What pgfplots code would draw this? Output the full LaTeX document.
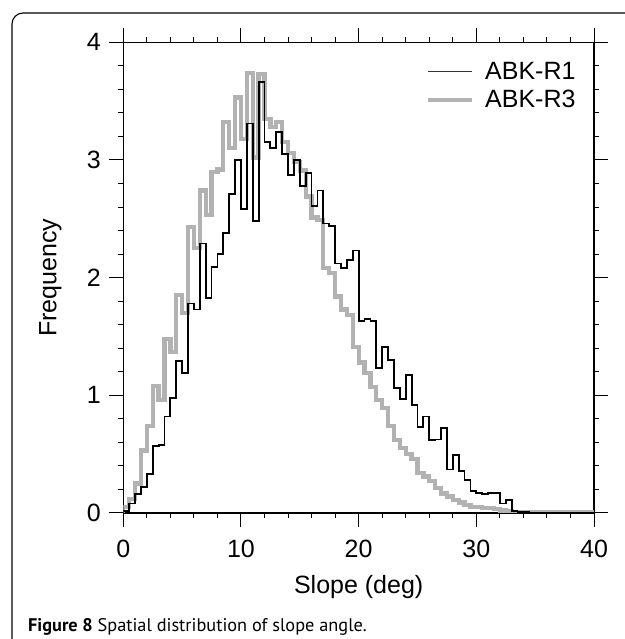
\documentclass[border=0pt]{standalone}
\usepackage{pgfplots}
\pgfplotsset{compat=1.18}
\usepackage{pgfplotstable}
\usepackage{fontspec}
\setmainfont{Liberation Sans}
\newfontfamily\capfont{PT Sans}
\definecolor{histgray}{RGB}{178,178,178}

\pgfplotstableread{
x r1 r3
0 0 0
0 0.02 0.05
0.5 0.08 0.12
1 0.16 0.25
1.5 0.22 0.53
2 0.33 0.74
2.5 0.57 1.08
3 0.58 0.96
3.5 0.82 1.48
4 0.98 1.37
4.5 1.29 1.85
5 1.19 1.70
5.5 1.78 2.43
6 1.73 2.25
6.5 2.29 2.74
7 1.83 2.53
7.5 2.09 2.90
8 2.20 2.92
8.5 2.38 3.32
9 2.71 3.10
9.5 3.00 3.53
10 2.58 3.18
10.5 3.31 3.74
11 2.48 3.02
11.5 3.66 3.73
12 3.15 3.35
12.5 3.10 3.28
13 3.24 3.32
13.5 3.05 3.15
14 2.87 3.06
14.5 3.00 2.98
15 2.78 2.91
15.5 2.89 2.69
16 2.61 2.51
16.5 2.74 2.49
17 2.46 2.08
17.5 2.44 2.04
18 2.12 1.84
18.5 2.08 1.73
19 2.15 1.68
19.5 2.23 1.41
20 1.63 1.28
20.5 1.65 1.19
21 1.63 1.07
21.5 1.23 0.96
22 1.41 0.89
22.5 1.30 0.74
23 1.06 0.62
23.5 0.97 0.55
24 1.17 0.50
24.5 0.92 0.46
25 0.73 0.34
25.5 0.82 0.31
26 0.62 0.27
26.5 0.625 0.21
27 0.72 0.165
27.5 0.37 0.14
28 0.49 0.11
28.5 0.36 0.09
29 0.28 0.065
29.5 0.19 0.05
30 0.17 0.05
30.5 0.16 0.04
31 0.17 0.04
31.5 0.17 0.035
32 0.08 0.02
32.5 0.11 0.015
33 0.02 0.006
33.5 0.01 0.003
34 0.01 0.003
34.5 0.003 0.003
35 0.003 0.003
35.5 0.003 0.003
36 0.003 0.003
36.5 0.003 0.003
37 0.003 0.003
37.5 0.003 0.003
38 0.003 0.003
38.5 0.003 0.003
39 0.003 0.003
39.5 0.003 0.003
40 0.003 0.003
}\histdata

\begin{document}
\begin{tikzpicture}
\useasboundingbox (0,0) rectangle (624pt,639pt);
\draw[line width=1.1pt, rounded corners=11pt] (12pt,-5pt) -- (12pt,626pt) -- (640pt,626pt);
\node[anchor=base west, inner sep=0pt, font=\capfont\fontsize{18.3}{21}\selectfont] at (28pt,8pt) {\textbf{Figure 8} Spatial distribution of slope angle.};
\begin{axis}[
  at={(123.3pt,126pt)}, anchor=south west,
  scale only axis, width=470.7pt, height=470.7pt,
  xmin=0, xmax=40, ymin=0, ymax=4,
  xtick={0,10,20,30,40}, ytick={0,1,2,3,4},
  minor x tick num=4, minor y tick num=4,
  tick align=outside,
  xticklabel pos=left, yticklabel pos=left,
  xtick pos=both, ytick pos=both,
  major tick length=14pt, minor tick length=5pt,
  axis line style={line width=1.1pt},
  every tick/.style={black, line width=1pt},
  /pgf/number format/assume math mode=true,
  tick label style={font=\fontsize{25}{28}\selectfont},
  xticklabel style={yshift=-10pt},
  yticklabel style={xshift=-5pt},
  label style={font=\fontsize{25}{28}\selectfont},
  xlabel={Slope (deg)}, ylabel={Frequency},
  xlabel style={at={(axis description cs:0.5,-0.17)}, anchor=base},
  ylabel style={at={(axis description cs:-0.155,0.5)}, anchor=center},
  legend style={draw=none, fill=none, at={(0.636,0.966)}, anchor=north west,
    font=\fontsize{25}{28}\selectfont, row sep=5pt},
  legend cell align=left,
  legend image code/.code={\draw[#1] (0pt,0pt) -- (44pt,0pt); \path (53pt,0pt);},
  clip=true,
]
\addplot[const plot mark left, histgray, line width=4.3pt, forget plot] table[x=x, y=r3] {\histdata};
\addplot[const plot mark left, black, line width=1.8pt, forget plot] table[x=x, y=r1] {\histdata};
\addlegendimage{black!80, line width=1.2pt}
\addlegendentry{ABK-R1}
\addlegendimage{histgray, line width=4.3pt}
\addlegendentry{ABK-R3}
\end{axis}
\end{tikzpicture}
\end{document}
